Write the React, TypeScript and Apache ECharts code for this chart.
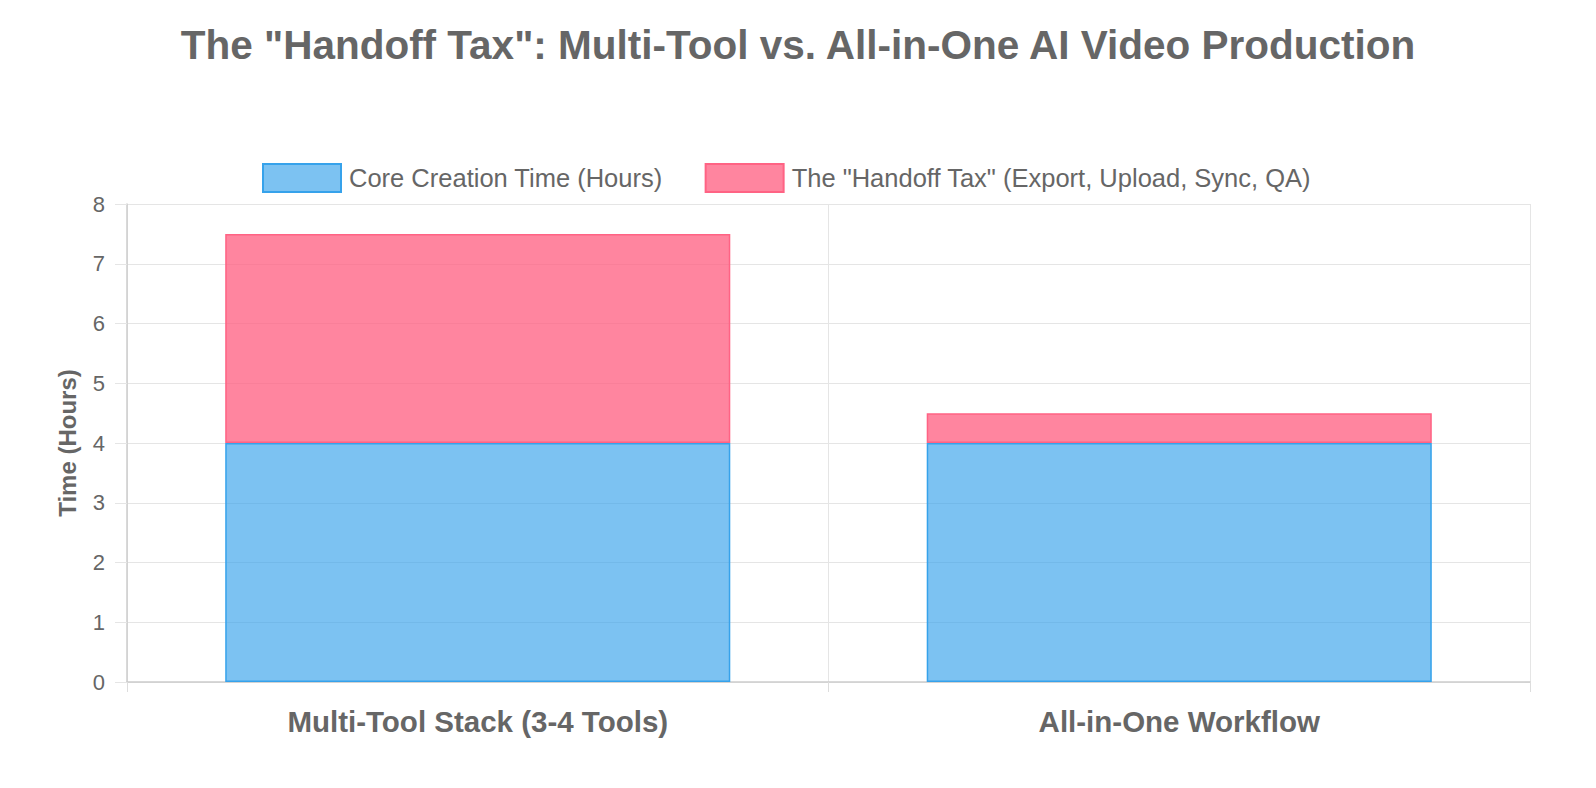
import React, { useEffect, useRef } from "react";
import * as echarts from "echarts";

const categories = ["Multi-Tool Stack (3-4 Tools)", "All-in-One Workflow"];
const coreHours = [4, 4];
const handoffHours = [3.5, 0.5];
const seriesNames = ["Core Creation Time (Hours)", 'The "Handoff Tax" (Export, Upload, Sync, QA)'];

const FONT = "'Liberation Sans', Arial, Helvetica, sans-serif";

const App = () => {
  const chartRef = useRef<HTMLDivElement>(null);

  useEffect(() => {
    if (!chartRef.current) return;
    const chart = echarts.init(chartRef.current, null, { renderer: "svg" });

    chart.setOption({
      animation: false,
      textStyle: { fontFamily: FONT },
      title: {
        text: 'The "Handoff Tax": Multi-Tool vs. All-in-One AI Video Production',
        left: "center",
        top: 19,
        textStyle: { fontSize: 40.5, fontWeight: "bold", color: "#666", fontFamily: FONT },
      },
      legend: {
        top: 158,
        left: 257,
        icon: "rect",
        itemWidth: 78,
        itemHeight: 28,
        itemGap: 42,
        textStyle: { fontSize: 25.5, color: "#666", fontFamily: FONT, padding: [0, 0, 0, 3] },
      },
      grid: { left: 127, right: 66, top: 204, bottom: 106 },
      xAxis: {
        type: "category",
        data: categories,
        axisLine: { lineStyle: { color: "#ccc", width: 1.5 } },
        axisTick: { show: true, length: 10, lineStyle: { color: "#ddd" } },
        splitLine: { show: true, lineStyle: { color: "#e5e5e5" } },
        axisLabel: { fontSize: 29.5, fontWeight: "bold", color: "#666", margin: 24, fontFamily: FONT },
      },
      yAxis: {
        type: "value",
        min: 0,
        max: 8,
        interval: 1,
        name: "Time (Hours)",
        nameLocation: "middle",
        nameGap: 48,
        nameTextStyle: { fontSize: 24, fontWeight: "bold", color: "#666", fontFamily: FONT },
        axisLine: { show: true, lineStyle: { color: "#ccc", width: 1.5 } },
        axisTick: { show: true, length: 12, lineStyle: { color: "#e5e5e5" } },
        splitLine: { lineStyle: { color: "#e5e5e5" } },
        axisLabel: { fontSize: 22, color: "#666", margin: 22, fontFamily: FONT },
      },
      series: [
        {
          name: seriesNames[0],
          type: "bar",
          stack: "total",
          barWidth: "72%",
          data: coreHours,
          itemStyle: { color: "rgba(54,162,235,0.65)", borderColor: "#36a2eb", borderWidth: 1.5 },
        },
        {
          name: seriesNames[1],
          type: "bar",
          stack: "total",
          barWidth: "72%",
          data: handoffHours,
          itemStyle: { color: "rgba(255,99,132,0.78)", borderColor: "#ff6384", borderWidth: 1.5 },
        },
      ],
    });

    return () => {
      chart.dispose();
    };
  }, []);

  return (
    <div
      ref={chartRef}
      style={{ position: "fixed", left: 0, top: 0, width: "100vw", height: "100vh", background: "#fff" }}
    ></div>
  );
};

export default App;
